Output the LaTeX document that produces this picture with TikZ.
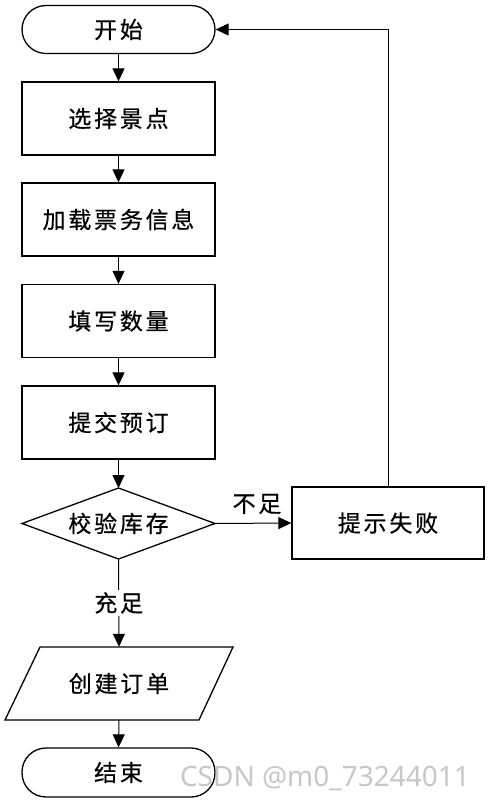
\documentclass[tikz,border=0pt]{standalone}
\usepackage{fontspec}
\setmainfont{Noto Sans CJK SC}[LetterSpace=12, FakeBold=0.5]
\newfontfamily\wmfont{Noto Sans}
\usetikzlibrary{arrows.meta,positioning,calc}
\begin{document}
\begin{tikzpicture}[x=1pt,y=-1pt,
  every node/.style={font=\fontsize{23}{27}\selectfont, inner sep=0pt},
  shp/.style={draw, line width=1.3pt},
  term/.style={shp, rectangle, rounded corners=24pt, minimum width=193pt, minimum height=48pt},
  proc/.style={shp, rectangle, minimum width=193pt, minimum height=73pt},
  flow/.style={line width=1pt, -{Triangle[length=13pt,width=12pt]}},
  lbl/.style={fill=white, inner sep=2pt}
]
\useasboundingbox (0,0) rectangle (489,802);
\node[term] (start) at (118.5,29.5) {开始};
\node[proc] (s1) at (118.5,118.5) {选择景点};
\node[proc] (s2) at (118.5,219.5) {加载票务信息};
\node[proc] (s3) at (118.5,321) {填写数量};
\node[proc] (s4) at (118.5,422.5) {提交预订};
\node[minimum width=193pt, minimum height=71pt] (chk) at (118.5,523.5) {校验库存};
\draw[line width=1.3pt] (22,523.5) -- (118.5,488) -- (215,523.5) -- (118.5,559) -- cycle;
\node[proc, minimum width=192pt, minimum height=72pt] (fail) at (388,523) {提示失败};
\node[minimum width=193pt, minimum height=73pt] (para) at (119,683.5) {创建订单};
\draw[line width=1.3pt] (40,647) -- (233,647) -- (199,720) -- (5,720) -- cycle;
\node[term, minimum height=49pt] (end) at (118.5,772.5) {结束};

\draw[flow] (start) -- (s1);
\draw[flow] (s1) -- (s2);
\draw[flow] (s2) -- (s3);
\draw[flow] (s3) -- (s4);
\draw[flow] (s4.south) -- (118.5,488);
\coordinate (dr) at (215,523.5);
\coordinate (db) at (118.5,559);
\draw[flow] (dr) -- (fail.west);
\node (nz) at (257,504) {不足};
\draw[flow] (db) -- node[lbl, pos=0.5] (ok) {充足} (para.north);
\draw[flow] (fail.north) -- (fail.north |- start.east) -- (start.east);
\draw[flow] (para.south) -- (end.north);
\node[font=\wmfont\fontsize{28}{31}\selectfont, text=black!22] (wm) at (325,778) {CSDN @m0\_73244011};
\end{tikzpicture}
\end{document}
